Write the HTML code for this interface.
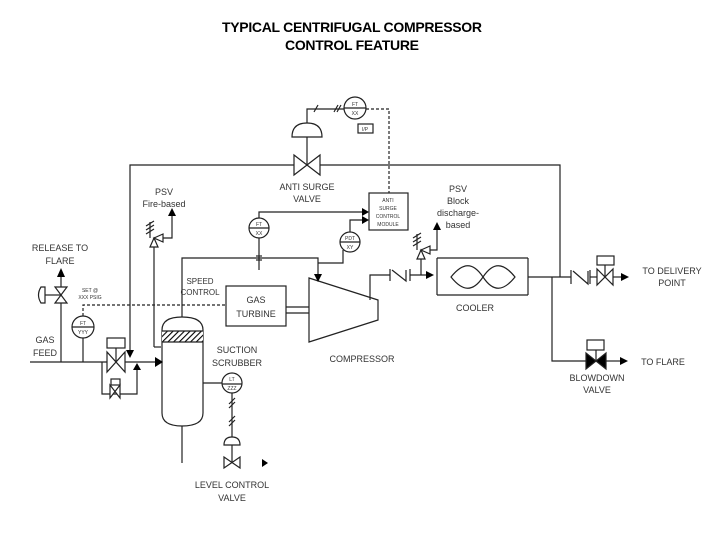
<!DOCTYPE html>
<html><head><meta charset="utf-8"><style>
html,body{margin:0;padding:0;background:#fff}
svg{display:block}
text{font-family:"Liberation Sans",sans-serif;fill:#333}
</style></head><body>
<svg width="720" height="540" viewBox="0 0 720 540" xmlns="http://www.w3.org/2000/svg">
<defs>
<pattern id="h" width="4" height="4" patternUnits="userSpaceOnUse" patternTransform="rotate(45)"><rect width="4" height="4" fill="#fff"/><line x1="0" y1="0" x2="0" y2="4" stroke="#000" stroke-width="2.2"/></pattern>
</defs>
<text x="352" y="32" font-size="14" font-weight="bold" text-anchor="middle" textLength="260" style="fill:#000">TYPICAL CENTRIFUGAL COMPRESSOR</text>
<text x="352" y="50" font-size="14" font-weight="bold" text-anchor="middle" textLength="134" style="fill:#000">CONTROL FEATURE</text>

<g stroke="#222" stroke-width="1.2" fill="none">
<polyline points="130,355 130,165 294,165"/>
<polyline points="320,165 560,165 560,277"/>
<path d="M294,155 L294,175 L320,155 L320,175 Z" fill="#fff"/>
<line x1="307" y1="165" x2="307" y2="137"/>
<path d="M292,137 Q292,123 307,123 Q322,123 322,137 Z" fill="#fff"/>
<polyline points="307,123 307,109 344,109"/>
<line x1="314" y1="112" x2="318" y2="105"/><line x1="334" y1="112" x2="338" y2="105"/><line x1="337" y1="112" x2="341" y2="105"/>
<circle cx="355" cy="108" r="11" fill="#fff"/><line x1="344" y1="108" x2="366" y2="108"/>
<rect x="358" y="124" width="15" height="9"/>
<polyline points="366,109 389,109 389,193" stroke-dasharray="3,2"/>
<rect x="369" y="193" width="39" height="37" fill="#fff"/>
<circle cx="259" cy="228" r="10" fill="#fff"/><line x1="249" y1="228" x2="269" y2="228"/>
<polyline points="259,218 259,212 366,212"/>
<line x1="259" y1="238" x2="259" y2="270"/>
<line x1="256" y1="256" x2="262" y2="256"/><line x1="256" y1="260" x2="262" y2="260"/>
<polyline points="182,317 182,258 318,258 318,275"/>
<circle cx="350" cy="242" r="10" fill="#fff"/><line x1="340" y1="242" x2="360" y2="242"/>
<polyline points="350,232 350,220 366,220"/>
<polyline points="318,263 343,263 343,250"/>
<rect x="226" y="286" width="60" height="40"/>
<line x1="286" y1="307" x2="309" y2="307"/><line x1="286" y1="313" x2="309" y2="313"/>
<polygon points="309,278 378,300 378,320 309,342" fill="#fff"/>
<polyline points="370,300 370,275 378,275 390,275"/>
<line x1="390" y1="269" x2="390" y2="281"/><polyline points="392,270 406,281 406,270"/><line x1="410" y1="269" x2="410" y2="281"/>
<line x1="410" y1="275" x2="428" y2="275"/>
<line x1="421" y1="275" x2="421" y2="259"/>
<path d="M417,259 L425,259 L421,250 Z M421,250 L430,246 L430,254 Z" fill="#fff"/>
<line x1="417" y1="234" x2="417" y2="250"/><line x1="413" y1="238" x2="421" y2="233"/><line x1="413" y1="242" x2="421" y2="237"/><line x1="413" y1="246" x2="421" y2="241"/>
<polyline points="430,250 437,250 437,228"/>
<line x1="437" y1="258" x2="528" y2="258"/><line x1="437" y1="295" x2="528" y2="295"/><line x1="528" y1="258" x2="528" y2="295"/><line x1="437" y1="258" x2="437" y2="295"/>
<path d="M451,277 C463,262 473,262 483,277 C493,292 503,292 515,277 C503,262 493,262 483,277 C473,292 463,292 451,277 Z"/>
<line x1="528" y1="277" x2="571" y2="277"/>
<line x1="571" y1="270" x2="571" y2="284"/><polyline points="573,271 588,284 588,271"/><line x1="590" y1="270" x2="590" y2="284"/>
<line x1="590" y1="277" x2="597" y2="277"/>
<path d="M597,269 L597,285 L613,269 L613,285 Z" fill="#fff"/>
<line x1="605" y1="277" x2="605" y2="265"/><rect x="597" y="256" width="17" height="9"/>
<line x1="613" y1="277" x2="624" y2="277"/>
<polyline points="552,277 552,361 586,361"/>
<path d="M586,353 L586,369 L606,353 L606,369 Z" fill="#000"/>
<line x1="596" y1="361" x2="596" y2="350"/><rect x="587" y="340" width="17" height="10"/>
<line x1="606" y1="361" x2="622" y2="361"/>
<path d="M162,330 Q162,317 182,317 Q203,317 203,330 L203,413 Q203,426 182,426 Q162,426 162,413 Z" fill="#fff"/>
<rect x="162" y="331" width="41" height="11" fill="url(#h)" stroke="none"/>
<line x1="162" y1="331" x2="203" y2="331"/><line x1="162" y1="342" x2="203" y2="342"/>
<line x1="182" y1="426" x2="182" y2="463"/>
<polyline points="154,347 161,347"/>
<line x1="154" y1="347" x2="154" y2="247"/>
<path d="M150,247 L158,247 L154,238 Z M154,238 L163,234 L163,242 Z" fill="#fff"/>
<line x1="150" y1="222" x2="150" y2="238"/><line x1="146" y1="226" x2="154" y2="221"/><line x1="146" y1="230" x2="154" y2="225"/><line x1="146" y1="234" x2="154" y2="229"/>
<polyline points="163,238 172,238 172,214"/>
<line x1="30" y1="362" x2="107" y2="362"/><line x1="125" y1="362" x2="156" y2="362"/>
<path d="M107,352 L107,372 L125,352 L125,372 Z" fill="#fff"/>
<line x1="116" y1="362" x2="116" y2="348"/><rect x="107" y="338" width="18" height="10"/>
<polyline points="102,362 102,394 137,394 137,368"/>
<path d="M110,385 L110,398 L120,385 L120,398 Z" fill="#fff"/><rect x="111" y="379" width="9" height="6"/>
<circle cx="83" cy="327" r="11" fill="#fff"/><line x1="72" y1="327" x2="94" y2="327"/>
<line x1="83" y1="338" x2="83" y2="362"/>
<polyline points="83,316 83,305 226,305" stroke-dasharray="3,2"/>
<line x1="61" y1="362" x2="61" y2="275"/>
<path d="M55,287 L67,287 L55,303 L67,303 Z" fill="#fff"/>
<line x1="45" y1="295" x2="61" y2="295"/>
<path d="M45,287 L41,287 Q36,295 41,303 L45,303 Z" fill="#fff"/>
<line x1="203" y1="383" x2="222" y2="383"/>
<circle cx="232" cy="383" r="10" fill="#fff"/><line x1="222" y1="384" x2="242" y2="384"/>
<line x1="232" y1="393" x2="232" y2="462"/>
<line x1="229" y1="404" x2="235" y2="398"/><line x1="229" y1="408" x2="235" y2="402"/>
<line x1="229" y1="422" x2="235" y2="416"/><line x1="229" y1="426" x2="235" y2="420"/>
<path d="M224,445 Q224,437 232,437 Q240,437 240,445 Z" fill="#fff"/>
<path d="M224,457 L224,468 L240,457 L240,468 Z" fill="#fff"/>
</g>
<g fill="#000">
<path d="M126,350 L134,350 L130,358 Z"/>
<path d="M133,370 L141,370 L137,363 Z"/>
<path d="M155,357 L163,362 L155,367 Z"/>
<path d="M57,277 L65,277 L61,268 Z"/>
<path d="M168,216 L176,216 L172,208 Z"/>
<path d="M314,274 L322,274 L318,282 Z"/>
<path d="M362,208 L369,212 L362,216 Z"/>
<path d="M362,216 L369,220 L362,224 Z"/>
<path d="M426,271 L434,275 L426,279 Z"/>
<path d="M433,230 L441,230 L437,222 Z"/>
<path d="M621,273 L629,277 L621,281 Z"/>
<path d="M620,357 L628,361 L620,365 Z"/>
<path d="M262,459 L268,463 L262,467 Z"/>
</g>
<g font-size="9" text-anchor="middle">
<text x="307" y="190">ANTI SURGE</text><text x="307" y="202">VALVE</text>
<text x="164" y="195">PSV</text><text x="164" y="207">Fire-based</text>
<text x="60" y="251">RELEASE TO</text><text x="60" y="264">FLARE</text>
<text x="45" y="343">GAS</text><text x="45" y="356">FEED</text>
<text x="200" y="284" font-size="8">SPEED</text><text x="200" y="295" font-size="8">CONTROL</text>
<text x="256" y="303">GAS</text><text x="256" y="317">TURBINE</text>
<text x="237" y="353">SUCTION</text><text x="237" y="366">SCRUBBER</text>
<text x="362" y="362">COMPRESSOR</text>
<text x="475" y="311">COOLER</text>
<text x="458" y="192">PSV</text><text x="458" y="204">Block</text><text x="458" y="216">discharge-</text><text x="458" y="228">based</text>
<text x="672" y="274">TO DELIVERY</text><text x="672" y="286">POINT</text>
<text x="663" y="365">TO FLARE</text>
<text x="597" y="381">BLOWDOWN</text><text x="597" y="393">VALVE</text>
<text x="232" y="488">LEVEL CONTROL</text><text x="232" y="501">VALVE</text>
</g>
<g font-size="5" text-anchor="middle">
<text x="90" y="292">SET @</text><text x="90" y="299">XXX PSIG</text>
<text x="83" y="325">FT</text><text x="83" y="334">YYY</text>
<text x="259" y="226">FT</text><text x="259" y="235">XX</text>
<text x="350" y="240">PDT</text><text x="350" y="249">XY</text>
<text x="355" y="106">FT</text><text x="355" y="115">XX</text>
<text x="365" y="131">I/P</text>
<text x="232" y="381">LT</text><text x="232" y="390">ZZZ</text>
<text x="388" y="202">ANTI</text><text x="388" y="210">SURGE</text><text x="388" y="218">CONTROL</text><text x="388" y="226">MODULE</text>
</g>
</svg>
</body></html>
